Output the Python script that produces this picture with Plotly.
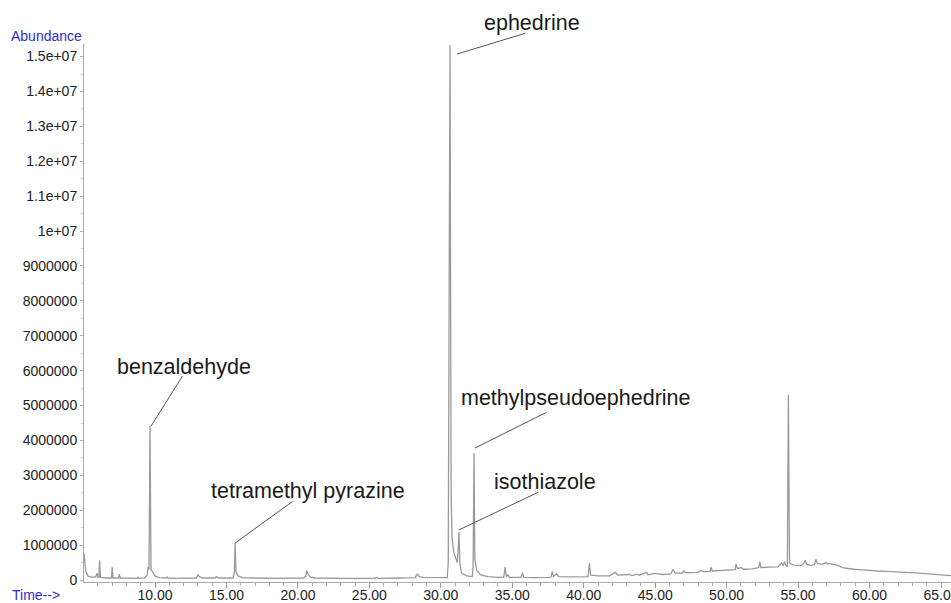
import plotly.graph_objects as go
import numpy as np

# Retention time (min) and abundance (millions of counts)
time_min = [5.03, 5.08, 5.15, 5.3, 5.6, 5.85, 5.94, 6.0, 6.08, 6.12, 6.18, 6.6, 6.95, 7.0, 7.06,
            7.45, 7.5, 7.56, 8.0, 8.75, 8.8, 8.86, 9.3, 9.45, 9.52, 9.58, 9.65, 9.72, 9.85, 10.0,
            10.3, 10.8, 10.85, 10.9, 11.5, 12.2, 12.9, 13.0, 13.1, 13.3, 14.2, 14.3, 14.45, 15.45,
            15.55, 15.6, 15.66, 15.8, 16.1, 17.0, 18.5, 20.4, 20.55, 20.62, 20.7, 20.85, 21.2,
            23.0, 25.4, 25.5, 25.6, 27.0, 28.2, 28.35, 28.5, 28.8, 29.5, 30.45, 30.52, 30.64,
            30.72, 30.78, 30.9, 31.05, 31.15, 31.2, 31.27, 31.33, 31.45, 31.8, 32.2, 32.26, 32.32,
            32.38, 32.5, 32.8, 33.3, 34.0, 34.4, 34.5, 34.58, 34.7, 34.8, 35.6, 35.72, 35.8, 36.5,
            37.7, 37.8, 37.88, 38.1, 38.25, 39.2, 40.3, 40.4, 40.48, 41.0, 41.8, 42.2, 42.4, 43.2,
            43.4, 43.7, 43.9, 44.4, 44.5, 45.0, 45.5, 46.1, 46.25, 46.4, 46.9, 47.0, 47.15, 48.0,
            48.2, 48.4, 48.85, 48.9, 49.0, 49.6, 50.0, 50.6, 50.65, 50.75, 51.0, 51.2, 51.8, 52.25,
            52.32, 52.4, 53.0, 53.6, 53.85, 53.95, 54.05, 54.15, 54.25, 54.32, 54.4, 54.7, 55.2,
            55.4, 55.5, 55.6, 55.9, 56.15, 56.25, 56.35, 56.7, 56.95, 57.05, 57.15, 57.45, 57.8,
            58.1, 58.5, 58.9, 59.5, 60.0, 60.6, 61.2, 61.8, 62.4, 63.0, 63.5, 64.1, 64.7, 65.7]
abundance_mil = [0.77, 0.55, 0.25, 0.12, 0.08, 0.1, 0.2, 0.08, 0.08, 0.57, 0.08, 0.06, 0.06, 0.37, 0.06,
                 0.06, 0.17, 0.06, 0.05, 0.05, 0.09, 0.05, 0.06, 0.15, 0.38, 0.3, 4.41, 0.3, 0.22, 0.12,
                 0.07, 0.06, 0.09, 0.06, 0.05, 0.05, 0.06, 0.16, 0.1, 0.06, 0.06, 0.1, 0.06, 0.06,
                 0.2, 1.06, 0.25, 0.12, 0.07, 0.06, 0.05, 0.06, 0.12, 0.27, 0.18, 0.09, 0.06,
                 0.05, 0.05, 0.08, 0.05, 0.06, 0.07, 0.17, 0.1, 0.08, 0.07, 0.07, 0.5, 15.33,
                 2.5, 1.25, 0.8, 0.58, 0.5, 0.8, 1.38, 0.5, 0.2, 0.12, 0.1, 0.4, 3.64,
                 0.6, 0.28, 0.15, 0.1, 0.08, 0.08, 0.37, 0.1, 0.15, 0.08, 0.08, 0.2, 0.08, 0.07,
                 0.08, 0.25, 0.1, 0.18, 0.1, 0.09, 0.1, 0.48, 0.14, 0.12, 0.12, 0.22, 0.14, 0.16,
                 0.13, 0.17, 0.14, 0.22, 0.15, 0.19, 0.16, 0.18, 0.31, 0.2, 0.2, 0.26, 0.21, 0.22,
                 0.27, 0.24, 0.25, 0.37, 0.26, 0.28, 0.29, 0.3, 0.46, 0.33, 0.36, 0.31, 0.32, 0.36,
                 0.52, 0.36, 0.37, 0.38, 0.5, 0.4, 0.53, 0.42, 0.4, 5.30, 0.48, 0.43, 0.42,
                 0.48, 0.57, 0.45, 0.42, 0.44, 0.6, 0.48, 0.45, 0.5, 0.46, 0.48, 0.45, 0.42,
                 0.36, 0.33, 0.31, 0.29, 0.27, 0.26, 0.25, 0.24, 0.22, 0.21, 0.2, 0.18, 0.16, 0.13]

# Labelled compounds: name, retention time, apex abundance (millions)
compound_names = ["benzaldehyde", "tetramethyl pyrazine", "ephedrine", "isothiazole", "methylpseudoephedrine"]
compound_times = [9.65, 15.6, 30.64, 31.27, 32.32]
compound_apex_mil = [4.41, 1.06, 15.33, 1.38, 3.64]

x_tick_vals = [10, 15, 20, 25, 30, 35, 40, 45, 50, 55, 60, 65]
y_tick_vals_mil = list(range(0, 16))
y_tick_text = ["0", "1000000", "2000000", "3000000", "4000000", "5000000", "6000000", "7000000",
               "8000000", "9000000", "1e+07", "1.1e+07", "1.2e+07", "1.3e+07", "1.4e+07", "1.5e+07"]

abundance = np.array(abundance_mil) * 1e6
font_fam = "Liberation Sans, Arial, sans-serif"
blue = "#2d2dd2"

fig = go.Figure()
fig.add_trace(go.Scatter(x=time_min, y=abundance, mode="lines",
                         line=dict(color="#9a9a9a", width=1.3), hoverinfo="skip"))

# label layout (pixels, relative to each apex): leader-line start shift, leader-line vector, text centre
line_shift = [(1, 0), (0, 0), (7, -9), (0, 2), (1, 5)]
line_vec = [(32, -51), (58, -42), (69, -21), (80, -38), (72, -36)]
text_off = [(34, -59), (73, -52), (82, -22), (86, -50), (102, -55)]
for name, t, a, (sx, sy), (lx, ly), (tx, ty) in zip(compound_names, compound_times, compound_apex_mil,
                                                    line_shift, line_vec, text_off):
    fig.add_annotation(x=t, y=a * 1e6, xref="x", yref="y", text=" ",
                       showarrow=True, arrowhead=0, arrowwidth=1, arrowcolor="#555555",
                       standoff=0, ax=lx, ay=ly, xshift=sx, yshift=sy, borderpad=0,
                       font=dict(size=1))
    fig.add_annotation(x=t, y=a * 1e6, xref="x", yref="y", text=name, showarrow=False,
                       xanchor="center", yanchor="middle", xshift=tx, yshift=-ty,
                       font=dict(family=font_fam, size=21.5, color="#1a1a1a"))

fig.add_annotation(text="Abundance", xref="paper", yref="paper", x=0, y=1.0,
                   xshift=0, yshift=-2, xanchor="right", yanchor="bottom", showarrow=False,
                   font=dict(family=font_fam, size=14, color=blue))
fig.add_annotation(text="Time-->", xref="paper", yref="paper", x=0, y=0,
                   xshift=-22, yshift=-13, xanchor="right", yanchor="middle", showarrow=False,
                   font=dict(family=font_fam, size=14, color=blue))

fig.update_layout(
    width=951, height=603,
    margin=dict(l=84, r=0, t=44, b=21, autoexpand=False),
    paper_bgcolor="white", plot_bgcolor="white",
    showlegend=False,
    font=dict(family=font_fam, size=14, color="#222222"),
)
fig.update_xaxes(range=[5.03, 65.7], tickvals=x_tick_vals, tickformat=".2f", automargin=False,
                 ticks="outside", ticklen=5, tickcolor="#999999", tickwidth=1,
                 ticklabeloverflow="allow", ticklabelstandoff=-5,
                 showline=True, linecolor="#aaaaaa", linewidth=1, showgrid=False, zeroline=False,
                 tickfont=dict(size=14, color="#222222"),
                 minor=dict(dtick=1, tick0=0, ticks="outside", ticklen=3, tickcolor="#aaaaaa", showgrid=False))
fig.update_yaxes(range=[-0.055e6, 15.36e6], tickvals=[v * 1e6 for v in y_tick_vals_mil], ticktext=y_tick_text,
                 automargin=False,
                 ticks="outside", ticklen=3, tickcolor="#aaaaaa", tickwidth=1,
                 showline=True, linecolor="#aaaaaa", linewidth=1, showgrid=False, zeroline=False,
                 tickfont=dict(size=14, color="#222222"),
                 minor=dict(dtick=0.5e6, ticks="outside", ticklen=2, tickcolor="#cccccc", showgrid=False))

fig.write_html("out.html")
